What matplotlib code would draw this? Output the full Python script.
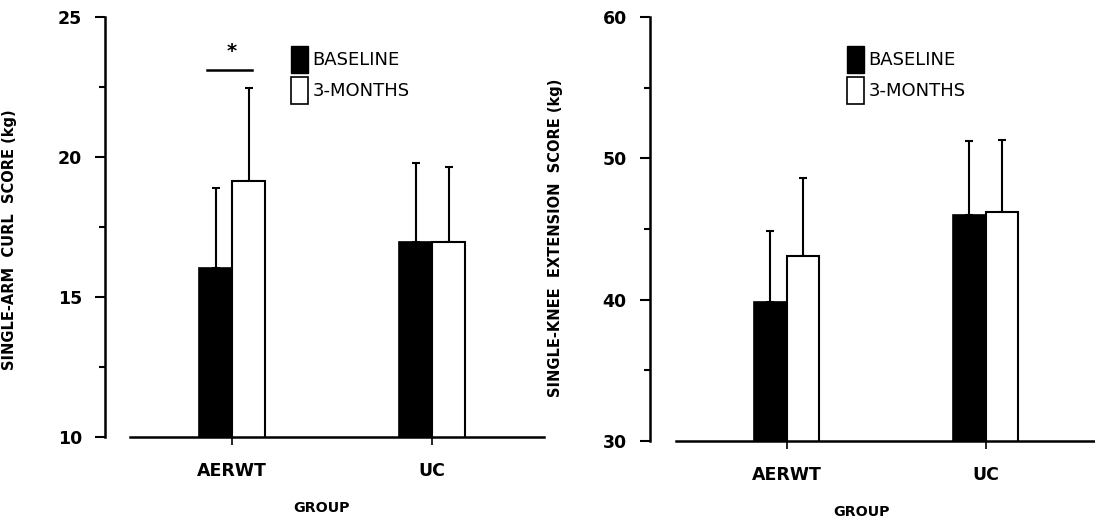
import matplotlib
matplotlib.use("Agg")
import matplotlib.pyplot as plt
from matplotlib.patches import Patch
import numpy as np

groups = ["AERWT", "UC"]
series = ["BASELINE", "3-MONTHS"]

# single-arm curl (kg)
arm_base = [16.05, 16.95]
arm_base_sd = [2.85, 2.85]
arm_3mo = [19.15, 16.97]
arm_3mo_sd = [3.3, 2.67]

# single-knee extension (kg)
knee_base = [39.8, 46.0]
knee_base_sd = [5.05, 5.2]
knee_3mo = [43.1, 46.2]
knee_3mo_sd = [5.5, 5.1]

# significance mark over AERWT (arm curl)
sig_y = 23.1
sig_star_y = 23.75

plt.rcParams['font.family'] = ['DejaVu Sans']

W, H = 1095, 527
fig = plt.figure(figsize=(W / 100, H / 100), dpi=100)


def px_axes(left, right, top, bottom):
    return fig.add_axes([left / W, 1 - bottom / H, (right - left) / W, (bottom - top) / H])


def draw_panel(ax, base, base_sd, mo3, mo3_sd, ylim, step, xlim, ylabel, spine_off):
    # spine position first: it resets the ticks
    ax.spines["top"].set_visible(False)
    ax.spines["right"].set_visible(False)
    ax.spines["left"].set_position(("outward", spine_off))
    ax.spines["left"].set_linewidth(1.8)
    ax.spines["bottom"].set_linewidth(1.8)

    x = np.arange(len(groups))
    w = 0.165
    ax.bar(x - w / 2, base, w, color="black", edgecolor="black", linewidth=1.2, zorder=2)
    ax.bar(x + w / 2, mo3, w, color="white", edgecolor="black", linewidth=1.5, zorder=2)
    ax.errorbar(x - w / 2, base, yerr=[np.zeros(len(base)), base_sd], fmt="none",
                ecolor="black", elinewidth=1.5, capsize=3, capthick=1.5, zorder=1)
    ax.errorbar(x + w / 2, mo3, yerr=[np.zeros(len(mo3)), mo3_sd], fmt="none",
                ecolor="black", elinewidth=1.5, capsize=3, capthick=1.5, zorder=1)
    ax.set_ylim(*ylim)
    ax.set_xlim(*xlim)
    yt = np.arange(ylim[0], ylim[1] + 0.01, step)
    ax.set_yticks(yt)
    ax.set_yticklabels([str(int(v)) for v in yt], fontsize=12.5, fontweight="bold")
    ax.set_yticks(np.arange(ylim[0], ylim[1] + 0.01, step / 2), minor=True)
    ax.set_xticks(x)
    ax.set_xticklabels(groups, fontsize=12.5, fontweight="bold")
    ax.tick_params(axis="y", which="major", length=7.5, width=1.5, pad=9)
    ax.tick_params(axis="y", which="minor", length=4.5, width=1.5)
    ax.tick_params(axis="x", which="major", length=6, width=1.2, pad=12)
    ax.set_ylabel(ylabel, fontsize=10.5, fontweight="bold")
    ax.legend(handles=[Patch(facecolor="black", edgecolor="black"),
                       Patch(facecolor="white", edgecolor="black", linewidth=1.2)],
              labels=series, loc="upper left", frameon=False, fontsize=13,
              handlelength=0.95, handleheight=1.95, handletextpad=0.25,
              labelspacing=0.2, borderpad=0, borderaxespad=0)


ax1 = px_axes(130, 544, 17, 437)
draw_panel(ax1, arm_base, arm_base_sd, arm_3mo, arm_3mo_sd, (10, 25), 5,
           (-0.51, 1.56), "SINGLE-ARM  CURL  SCORE (kg)", 18)
ax1.get_legend().set_bbox_to_anchor((291 / W, 1 - 46 / H), transform=fig.transFigure)
ax1.plot([-0.125, 0.1], [sig_y, sig_y], color="black", lw=1.8)
ax1.text(0.0, sig_star_y, "*", ha="center", va="center", fontsize=14, fontweight="bold")
ax1.yaxis.set_label_coords(17 / W, 1 - 240 / H, transform=fig.transFigure)

ax2 = px_axes(676, 1095, 17, 441)
draw_panel(ax2, knee_base, knee_base_sd, knee_3mo, knee_3mo_sd, (30, 60), 10,
           (-0.556, 1.55), "SINGLE-KNEE  EXTENSION  SCORE (kg)", 19)
ax2.get_legend().set_bbox_to_anchor((847 / W, 1 - 46 / H), transform=fig.transFigure)
ax2.yaxis.set_label_coords(563 / W, 1 - 238 / H, transform=fig.transFigure)

fig.text(322 / W, 1 - 508 / H, "GROUP", ha="center", va="center", fontsize=10.3, fontweight="bold")
fig.text(862 / W, 1 - 512 / H, "GROUP", ha="center", va="center", fontsize=10.3, fontweight="bold")

fig.savefig("out.png", dpi=100)
